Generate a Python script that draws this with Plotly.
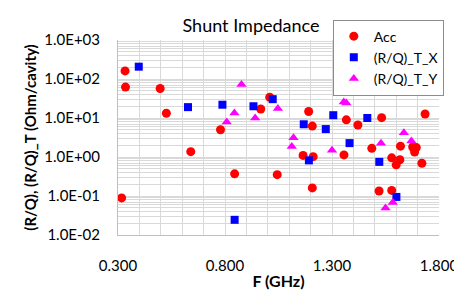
import plotly.graph_objects as go

# Acc
acc_f = [0.333, 0.335, 0.497, 0.526, 0.779, 0.640, 0.317, 0.845, 1.009, 0.967,
         1.191, 1.208, 1.044, 1.165, 1.212, 1.208, 1.367, 1.421, 1.532, 1.735,
         1.356, 1.486, 1.620, 1.677, 1.694, 1.686, 1.579, 1.617, 1.600, 1.720,
         1.520, 1.579]
acc_rq = [161, 62, 57, 13.2, 5.0, 1.37, 0.0895, 0.37, 34, 17,
          14.7, 6.2, 0.353, 1.1, 1.02, 0.161, 8.96, 6.6, 10.2, 12.7,
          1.13, 1.67, 1.9, 1.8, 1.74, 1.34, 0.95, 0.85, 0.63, 0.69,
          0.134, 0.139]

# (R/Q)_T_X
tx_f = [0.397, 0.627, 0.788, 0.933, 1.023, 1.168, 1.271, 1.306, 1.465, 1.382,
        1.192, 0.845, 1.521, 1.601]
tx_rq = [207, 19, 21.9, 20, 30.4, 6.9, 5.2, 11.8, 10, 2.27,
         0.82, 0.0245, 0.75, 0.0947]

# (R/Q)_T_Y
ty_f = [0.877, 0.844, 0.808, 0.941, 1.047, 1.355, 1.367, 1.120, 1.112, 1.300,
        1.529, 1.636, 1.671, 1.550, 1.584]
ty_rq = [72, 13.4, 7.9, 10, 17.6, 25.8, 24.4, 3.1, 1.86, 1.49,
         2.24, 4.16, 2.58, 0.049, 0.068]

y_tickvals = [1e-2, 1e-1, 1e0, 1e1, 1e2, 1e3]
y_ticktext = ["1.0E-02", "1.0E-01", "1.0E+00", "1.0E+01", "1.0E+02", "1.0E+03"]
x_tickvals = [0.3, 0.8, 1.3, 1.8]
x_ticktext = ["0.300", "0.800", "1.300", "1.800"]

FONT = "Lato"
GRID = "#d9d9d9"

fig = go.Figure()
fig.add_trace(go.Scatter(x=acc_f, y=acc_rq, mode="markers", name="Acc",
                         marker=dict(symbol="circle", size=9, color="#ff0000")))
fig.add_trace(go.Scatter(x=tx_f, y=tx_rq, mode="markers", name="(R/Q)_T_X",
                         marker=dict(symbol="square", size=8, color="#0000ff")))
fig.add_trace(go.Scatter(x=ty_f, y=ty_rq, mode="markers", name="(R/Q)_T_Y",
                         marker=dict(symbol="triangle-up", size=9, color="#ff00ff")))

fig.update_layout(
    width=462, height=291,
    margin=dict(l=110, r=21, t=28, b=53),
    paper_bgcolor="white", plot_bgcolor="white",
    font=dict(family=FONT, size=15, color="#000000"),
    title=dict(text="Shunt Impedance", x=243/462, xanchor="center",
               y=1-18/291, yanchor="middle", yref="container",
               font=dict(family=FONT, size=18, color="#000000")),
    showlegend=True,
    legend=dict(x=1.015, xanchor="right", y=1.105, yanchor="top",
                bgcolor="white", bordercolor="#8c8c8c", borderwidth=1,
                font=dict(family=FONT, size=14), tracegroupgap=0,
                itemwidth=30),
    xaxis=dict(range=[0.3, 1.8], tickmode="array", tickvals=x_tickvals,
               ticktext=x_ticktext, showgrid=True, gridcolor=GRID, gridwidth=1,
               minor=dict(dtick=0.1, tick0=0.3, showgrid=True, gridcolor=GRID, gridwidth=1),
               showline=True, linecolor="#bfbfbf", linewidth=1,
               zeroline=False, ticks="outside", ticklen=17,
               tickcolor="rgba(0,0,0,0)", tickfont=dict(size=15),
               title=dict(text="<b>F (GHz)</b>", font=dict(family=FONT, size=16), standoff=2)),
    yaxis=dict(type="log", range=[-2, 3], tickmode="array", tickvals=y_tickvals,
               ticktext=y_ticktext, showgrid=True, gridcolor=GRID, gridwidth=1,
               minor=dict(dtick="D1", showgrid=True, gridcolor=GRID, gridwidth=1),
               showline=True, linecolor="#bfbfbf", linewidth=1,
               zeroline=False, ticks="outside", ticklen=14,
               tickcolor="rgba(0,0,0,0)", tickfont=dict(size=15),
               title=dict(text="<b>(R/Q), (R/Q)_T (Ohm/cavity)</b>",
                          font=dict(family=FONT, size=15), standoff=4)),
)

fig.write_html("out.html")
